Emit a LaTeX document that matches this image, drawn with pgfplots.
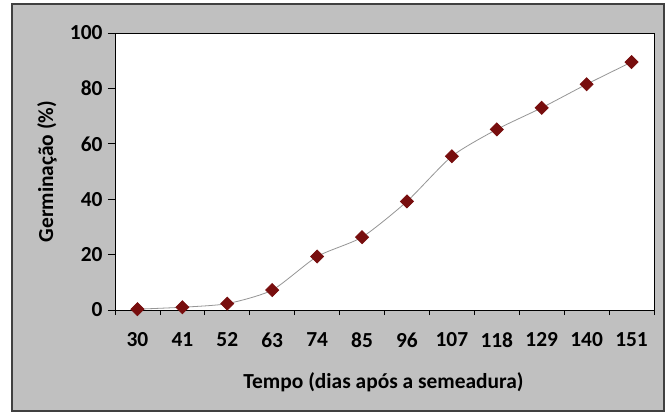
\documentclass[border=0pt]{standalone}
\usepackage{fontspec}
\setmainfont{Carlito}
\usepackage{pgfplots}
\pgfplotsset{compat=1.18}
\usetikzlibrary{calc}

\definecolor{chartbg}{RGB}{192,192,192}
\definecolor{framecol}{RGB}{64,64,64}
\definecolor{markred}{RGB}{120,14,14}
\definecolor{linegray}{RGB}{150,150,150}

\begin{document}
\begin{tikzpicture}
% outer chart area (axis SW corner at origin, 1bp = 1px)
\draw[framecol, line width=2bp, fill=chartbg] (-103bp,-101bp) rectangle (549bp,306bp);

\begin{axis}[
    at={(0,0)}, anchor=south west,
    scale only axis,
    width=539bp, height=277bp,
    axis background/.style={fill=white},
    axis line style={black, line width=0.8bp},
    xmin=-0.5, xmax=11.5,
    ymin=0, ymax=100,
    ytick={0,20,...,100},
    xtick={0,...,11},
    xticklabels={30,41,52,63,74,85,96,107,118,129,140,151},
    minor xtick={-0.5,0.5,...,11.5},
    major x tick style={draw=none},
    minor x tick style={black, line width=0.8bp},
    major y tick style={black, line width=0.8bp},
    minor tick length=5bp,
    major tick length=7bp,
    tick align=outside,
    xtick pos=bottom, ytick pos=left,
    /pgf/number format/assume math mode=true,
    ticklabel style={font=\fontsize{21.5}{24}\selectfont\bfseries},
    xticklabel shift=12bp,
    yticklabel shift=2bp,
    label style={font=\fontsize{21.5}{24}\selectfont\bfseries},
    xlabel={Tempo (dias após a semeadura)},
    ylabel={Germinação (\%)},
    xlabel style={at={($(axis description cs:0.5,0)+(-1bp,-72bp)$)}, anchor=center},
    ylabel style={at={($(axis description cs:0,0.5)+(-68bp,0)$)}, anchor=center},
    clip=false,
]
\addplot[linegray, line width=0.8bp, smooth, tension=0.4,
    mark=square*, mark size=4.6bp,
    mark options={rotate=45, fill=markred, draw=markred, solid}]
    coordinates {
    (0,0.3) (1,1.0) (2,2.3) (3,7.2) (4,19.3) (5,26.3)
    (6,39.2) (7,55.5) (8,65.2) (9,73.0) (10,81.5) (11,89.5)
    };
\end{axis}

\pgfresetboundingbox
\useasboundingbox (-115bp,-102bp) rectangle (556bp,310bp);
\end{tikzpicture}
\end{document}
